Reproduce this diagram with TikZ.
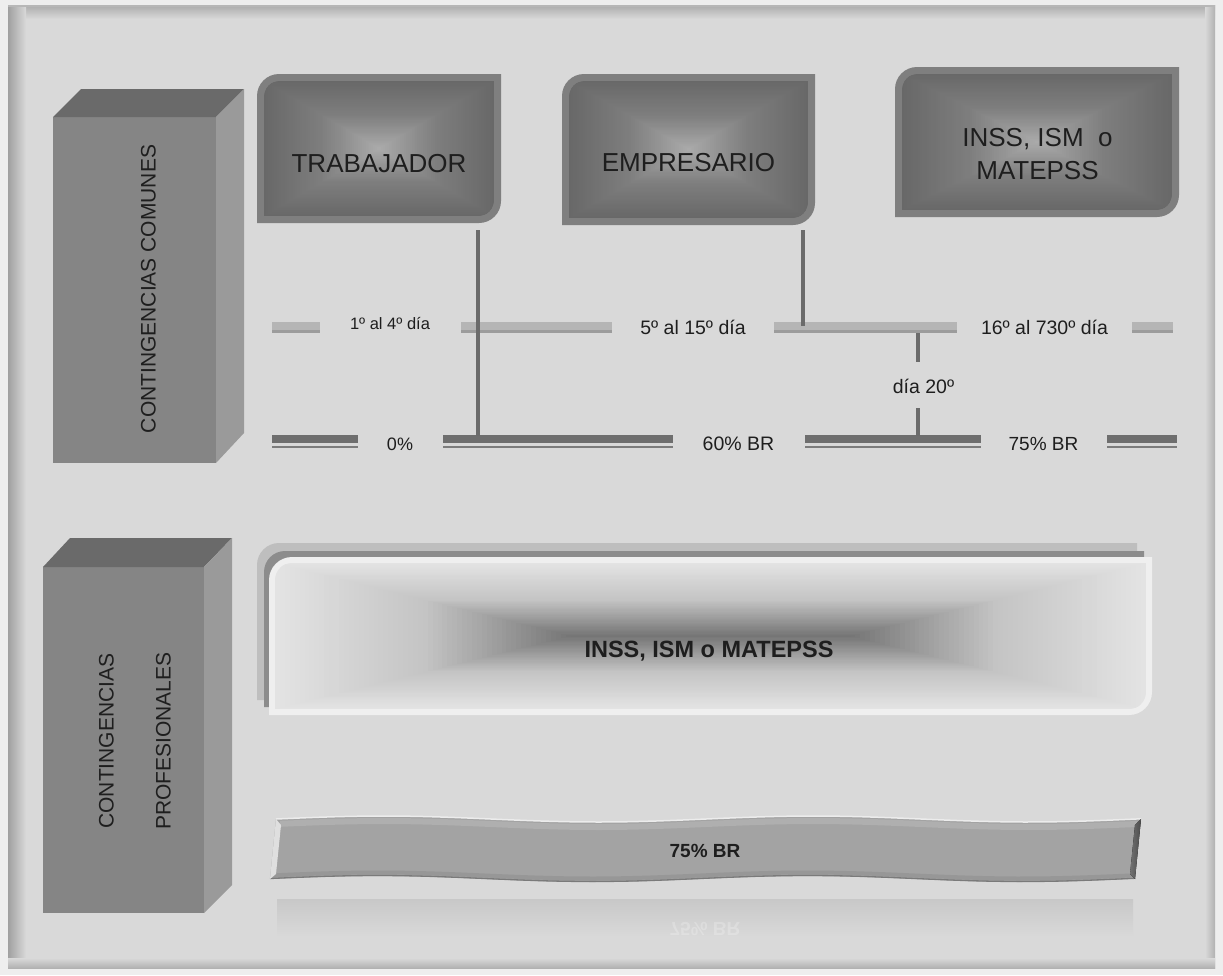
\documentclass[tikz,border=0pt]{standalone}
\usepackage{fontspec}
\setmainfont{Liberation Sans}
\definecolor{outerbg}{HTML}{EEEEEE}
\definecolor{panel}{HTML}{D9D9D9}
\definecolor{pshadow}{HTML}{A0A0A0}
\definecolor{cubefront}{HTML}{858585}
\definecolor{cubetop}{HTML}{6A6A6A}
\definecolor{cubeside}{HTML}{9A9A9A}
\definecolor{frameg}{HTML}{7F7F7F}
\definecolor{gedge}{HTML}{686868}
\definecolor{gmid}{HTML}{7E7E7E}
\definecolor{gcen}{HTML}{ABABAB}
\definecolor{bedge}{HTML}{E3E3E3}
\definecolor{bmid}{HTML}{C4C4C4}
\definecolor{bcen}{HTML}{747474}
\definecolor{layerA}{HTML}{BEBEBE}
\definecolor{layerB}{HTML}{8C8C8C}
\definecolor{frontw}{HTML}{EFEFEF}
\definecolor{upbarc}{HTML}{B5B5B5}
\definecolor{upbard}{HTML}{9C9C9C}
\definecolor{lowbarc}{HTML}{6E6E6E}
\definecolor{lowbarthin}{HTML}{7C7C7C}
\definecolor{vlinec}{HTML}{6B6B6B}
\definecolor{txt}{HTML}{1E1E1E}
\definecolor{banfill}{HTML}{A3A3A3}
\definecolor{bantop}{HTML}{AFAFAF}
\definecolor{banlow}{HTML}{979797}
\definecolor{banline}{HTML}{7A7A7A}
\definecolor{reflc}{HTML}{C8C8C8}
\tikzset{
  lbl/.style={inner sep=0pt, text=txt, font=\fontsize{19.5}{22}\selectfont, anchor=base},
  boxlbl/.style={inner sep=0pt, text=txt, font=\fontsize{26}{33}\selectfont, align=center},
  sidelbl/.style={inner sep=0pt, text=txt, font=\fontsize{21}{24}\selectfont, rotate=90},
  boldlbl/.style={inner sep=0pt, text=txt, anchor=base},
  upbar/.style={draw=upbarc, line width=8pt},
  upbarshade/.style={draw=upbard, line width=2.5pt},
  lowbar/.style={draw=lowbarc, line width=8pt},
  lowthin/.style={draw=lowbarthin, line width=2pt},
  vconn/.style={draw=vlinec, line width=4.5pt},
}
% rectangle with rounded top-left and bottom-right corners
\newcommand\rdpath[5]{({#1},{#4}) -- ({#1},{#2+#5}) .. controls ({#1},{#2+0.448*#5}) and ({#1+0.448*#5},{#2}) .. ({#1+#5},{#2}) -- ({#3},{#2}) -- ({#3},{#4-#5}) .. controls ({#3},{#4-0.448*#5}) and ({#3-0.448*#5},{#4}) .. ({#3-#5},{#4}) -- cycle}
% rectangular gradient from the centre (x1,y1,x2,y2,r,edge,mid,centre,half-length of centre segment)
\newcommand\pyrbox[9]{%
  \begin{scope}
    \clip \rdpath{#1}{#2}{#3}{#4}{#5};
    \pgfmathsetmacro\pcx{(#1+#3)/2}\pgfmathsetmacro\pcy{(#2+#4)/2}%
    \pgfmathsetmacro\phw{(#3-#1)/2}\pgfmathsetmacro\phh{(#4-#2)/2}%
    \foreach \i in {0,...,60}{%
      \pgfmathsetmacro\tv{1-\i/60}%
      \pgfmathsetmacro\pxa{\pcx-#9-\tv*(\phw-#9)}%
      \pgfmathsetmacro\pxb{\pcx+#9+\tv*(\phw-#9)}%
      \pgfmathsetmacro\pya{\pcy-\tv*\phh}%
      \pgfmathsetmacro\pyb{\pcy+\tv*\phh}%
      \ifnum\i<30
        \pgfmathtruncatemacro\pp{(\tv-0.5)*200}%
        \fill[#6!\pp!#7] (\pxa,\pya) rectangle (\pxb,\pyb);
      \else
        \pgfmathtruncatemacro\pp{\tv*200}%
        \fill[#7!\pp!#8] (\pxa,\pya) rectangle (\pxb,\pyb);
      \fi
    }%
  \end{scope}}
\newcommand\upseg[3]{%
  \coordinate (#1a) at (#2,326); \coordinate (#1b) at (#3,326);
  \draw[upbar] (#1a) -- (#1b);
  \draw[upbarshade] ([yshift=-5.5pt]#1a) -- ([yshift=-5.5pt]#1b);}
\newcommand\lowseg[3]{%
  \coordinate (#1a) at (#2,439); \coordinate (#1b) at (#3,439);
  \draw[lowbar] (#1a) -- (#1b);
  \draw[lowthin] ([yshift=-7.5pt]#1a) -- ([yshift=-7.5pt]#1b);}
\begin{document}
\begin{tikzpicture}[x=1pt,y=-1pt]
\useasboundingbox (0,0) rectangle (1223,975);
% background
\fill[outerbg] (0,0) rectangle (1223,975);
\fill[panel] (8,5) rectangle (1215,968);
\fill[top color=pshadow!80!panel, bottom color=panel] (8,5) rectangle (1215,19);
\fill[left color=pshadow, right color=panel] (8,5) rectangle (26,968);
\fill[left color=panel, right color=pshadow!70!panel] (1205,5) rectangle (1215,968);
\fill[top color=panel, bottom color=pshadow!70!panel] (8,958) rectangle (1215,968);
\draw[pshadow!60!panel, line width=1.5pt] (8,5.75) -- (1215,5.75);

% 3D blocks
\fill[cubefront] (53,117) rectangle (216,463);
\fill[cubetop] (53,117) -- (81,89) -- (244,89) -- (216,117) -- cycle;
\fill[cubeside] (216,117) -- (244,89) -- (244,433) -- (216,463) -- cycle;
\fill[cubefront] (43,567) rectangle (204,913);
\fill[cubetop] (43,567) -- (70,538) -- (232,538) -- (204,567) -- cycle;
\fill[cubeside] (204,567) -- (232,538) -- (232,885) -- (204,913) -- cycle;
\node[sidelbl] (cc) at (148.5,289) {CONTINGENCIAS COMUNES};
\node[sidelbl] (cp1) at (106.5,741) {CONTINGENCIAS};
\node[sidelbl] (cp2) at (163.5,741) {PROFESIONALES};

% top boxes
\fill[frameg] \rdpath{257}{74}{501}{223}{22};
\pyrbox{264}{81}{494}{216}{16}{gedge}{gmid}{gcen}{0}
\fill[frameg] \rdpath{562}{74}{815}{225}{22};
\pyrbox{569}{81}{808}{218}{16}{gedge}{gmid}{gcen}{0}
\fill[frameg] \rdpath{895}{67}{1179}{217}{22};
\pyrbox{902}{74}{1172}{210}{16}{gedge}{gmid}{gcen}{0}
\node[boxlbl, anchor=base] (trab) at (379,172) {TRABAJADOR};
\node[boxlbl, anchor=base] (emp) at (688.5,171) {EMPRESARIO};
\node[boxlbl] (inss) at (1037.5,154) {INSS, ISM\ \ o\\MATEPSS};

% timeline bars
\upseg{ua}{272}{320}
\upseg{ub}{461}{612}
\upseg{uc}{774}{957}
\upseg{ud}{1132}{1173}
\lowseg{la}{272}{358}
\lowseg{lb}{443}{673}
\lowseg{lc}{805}{981}
\lowseg{ld}{1107}{1177}

% connectors
\coordinate (v1t) at (478,230); \coordinate (v1b) at (478,436);
\coordinate (v2t) at (803,230); \coordinate (v2b) at (803,326);
\coordinate (v3t) at (918,333); \coordinate (v3m) at (918,362);
\coordinate (v4t) at (918,408); \coordinate (v4b) at (918,436);
\draw[vconn] (v1t) -- (v1b);
\draw[vconn] (v2t) -- (v2b);
\draw[vconn] (v3t) -- (v3m);
\draw[vconn] (v4t) -- (v4b);

% labels
\node[lbl, font=\fontsize{16.5}{20}\selectfont] (d1) at (390,329) {1º al 4º día};
\node[lbl] (d2) at (693,334) {5º al 15º día};
\node[lbl] (d3) at (1044.5,334) {16º al 730º día};
\node[lbl] (d20) at (923.5,393) {día 20º};
\node[lbl, font=\fontsize{18}{20}\selectfont] (p0) at (400,450) {0\%};
\node[lbl] (p60) at (738.5,450) {60\% BR};
\node[lbl, font=\fontsize{19}{22}\selectfont] (p75) at (1043.5,450) {75\% BR};

% bottom big box
\fill[layerA] \rdpath{257}{543}{1137}{700}{22};
\fill[layerB] \rdpath{264}{551}{1144}{707}{21};
\fill[frontw] \rdpath{269}{557}{1152}{715}{23};
\pyrbox{275}{563}{1146}{709}{17}{bedge}{bmid}{bcen}{140}
\node[boldlbl, font=\bfseries\fontsize{23.5}{26}\selectfont] (inssb) at (709,657) {INSS, ISM o MATEPSS};

% wavy banner
\fill[banfill] plot[domain=276:1141,samples=60] (\x,{819-3*sin((\x-276)*0.83721)}) -- plot[domain=1135:270,samples=60] (\x,{879-3*sin((\x-270)*0.83721)}) -- cycle;
\draw[bantop, line width=6pt] plot[domain=280:1137,samples=60] (\x,{824-3*sin((\x-276)*0.83721)});
\draw[white!85!gray, line width=1.5pt] plot[domain=276:1141,samples=60] (\x,{819-3*sin((\x-276)*0.83721)});
\draw[banlow, line width=4pt] plot[domain=273:1133,samples=60] (\x,{875.5-3*sin((\x-270)*0.83721)});
\draw[banline, line width=1.3pt] plot[domain=270:1135,samples=60] (\x,{878.5-3*sin((\x-270)*0.83721)});
\fill[left color=banfill!70!black, right color=black!70] (1141,819) -- (1135,879) -- (1130,874) -- (1135,825) -- cycle;
\fill[white!75!gray] (276,819) -- (270,879) -- (276,874) -- (281,825) -- cycle;
\node[boldlbl, font=\bfseries\fontsize{19}{22}\selectfont] (ban) at (705,857) {75\% BR};

% reflection
\fill[top color=reflc, bottom color=panel] (277,899) rectangle (1133,937);
\node[boldlbl, font=\bfseries\fontsize{19}{22}\selectfont, text=white, opacity=0.22, yscale=-1] (banr) at (705,922) {75\% BR};
\end{tikzpicture}
\end{document}
